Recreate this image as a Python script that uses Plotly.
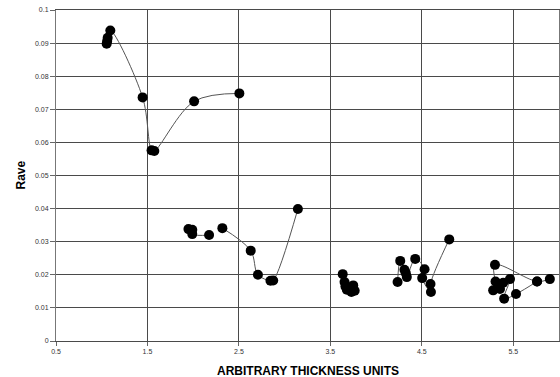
import plotly.graph_objects as go

# Measured series, one run per connected segment
seg1_x = [1.054, 1.060, 1.065, 1.094, 1.447, 1.545, 1.575, 2.010, 2.505]
seg1_y = [0.0898, 0.0906, 0.0916, 0.0938, 0.0736, 0.0576, 0.0574, 0.0724, 0.0748]

seg2_x = [1.948, 1.990, 1.990, 2.174]
seg2_y = [0.0338, 0.0336, 0.0323, 0.0320]

seg3_x = [2.319, 2.629, 2.708, 2.845, 2.875, 3.145]
seg3_y = [0.0341, 0.0273, 0.0200, 0.0182, 0.0183, 0.0399]

seg4_x = [3.635, 3.655, 3.665, 3.680, 3.700, 3.730, 3.750, 3.766]
seg4_y = [0.0202, 0.0178, 0.0165, 0.0155, 0.0162, 0.0148, 0.0168, 0.0152]

seg5_x = [4.235, 4.264, 4.310, 4.325, 4.336, 4.428, 4.530, 4.504, 4.600, 4.595, 4.800]
seg5_y = [0.0178, 0.0242, 0.0215, 0.0205, 0.0193, 0.0248, 0.0217, 0.0190, 0.0148, 0.0172, 0.0307]

seg6_x = [5.280, 5.355, 5.336, 5.390, 5.464, 5.400, 5.530, 5.760]
seg6_y = [0.0153, 0.0157, 0.0170, 0.0176, 0.0187, 0.0128, 0.0142, 0.0180]

seg7_x = [5.306, 5.300, 5.760, 5.900]
seg7_y = [0.0180, 0.0230, 0.0180, 0.0187]

segments = [
    (seg1_x, seg1_y), (seg2_x, seg2_y), (seg3_x, seg3_y), (seg4_x, seg4_y),
    (seg5_x, seg5_y), (seg6_x, seg6_y), (seg7_x, seg7_y),
]

x_ticks = [0.5, 1.5, 2.5, 3.5, 4.5, 5.5]

fig = go.Figure()
for sx, sy in segments:
    fig.add_trace(go.Scatter(
        x=sx, y=sy, mode="lines+markers",
        line=dict(color="#555555", width=1, shape="spline", smoothing=1.0),
        marker=dict(color="black", size=10),
        showlegend=False,
    ))

tick_font = dict(family="Liberation Sans, Arial, sans-serif", size=7, color="#333333")

fig.update_layout(
    width=560, height=377,
    margin=dict(l=56, r=1, t=10, b=36),
    paper_bgcolor="white", plot_bgcolor="white",
    xaxis=dict(
        range=[0.5, 6.0], tickvals=x_ticks, ticktext=[str(v) for v in x_ticks],
        showgrid=True, gridcolor="#4a4a4a", gridwidth=1,
        showline=True, linecolor="#4a4a4a", linewidth=1, mirror=True,
        ticks="outside", ticklen=4, tickcolor="#666666",
        tickfont=tick_font, zeroline=False,
    ),
    yaxis=dict(
        range=[0, 0.1], dtick=0.01, tick0=0,
        showgrid=True, gridcolor="#4a4a4a", gridwidth=1,
        showline=True, linecolor="#777777", linewidth=1, mirror=True,
        ticks="outside", ticklen=5, tickcolor="#666666",
        tickfont=tick_font, zeroline=False,
    ),
    annotations=[
        dict(text="<b>ARBITRARY THICKNESS UNITS</b>", x=0.5, y=-0.0, xref="paper", yref="paper",
             xanchor="center", yanchor="middle", yshift=-30, showarrow=False,
             font=dict(family="Liberation Sans, Arial, sans-serif", size=12, color="black")),
        dict(text="<b>Rave</b>", x=0, y=0.5, xref="paper", yref="paper", textangle=-90,
             xanchor="center", yanchor="middle", xshift=-36, showarrow=False,
             font=dict(family="Liberation Sans, Arial, sans-serif", size=12, color="black")),
    ],
)

fig.write_html("out.html")
